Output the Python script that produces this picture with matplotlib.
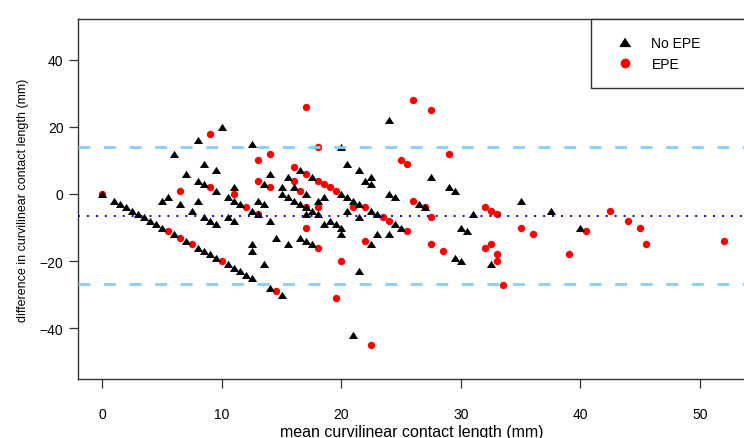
import matplotlib
matplotlib.use("Agg")
import matplotlib.pyplot as plt
from matplotlib.lines import Line2D

plt.rcParams['font.family'] = ['Liberation Sans', 'DejaVu Sans']

# half-point on the "one reading is zero" diagonal: (k/2, -k)
diag_no_epe = [2, 3, 4, 5, 6, 7, 8, 9, 10, 12, 14, 16, 17, 18, 19, 21, 22, 23, 24, 25, 28, 30]
diag_epe = [11, 13, 15, 20, 29]

# No EPE (triangles): mean, difference (mm)
no_epe_mean = [0, 6, 7, 5, 5.5, 6.5, 7.5, 10, 8, 12.5, 8.5, 9.5, 14, 13.5, 15, 8, 8.5, 9.5,
               11, 10.5, 11, 11.5, 12.5, 13, 13, 13.5, 15, 8, 8.5, 9, 9.5, 10.5, 11, 14,
               14.5, 12.5, 12.5, 13.5, 20, 20.5, 21.5, 22.5, 22, 22.5, 16.5, 17.5, 20, 20.5,
               21, 21.5, 22.5, 20.5, 21.5, 15.5, 16, 17, 15.5, 16, 16.5, 17, 17.5, 18, 18,
               18.5, 17, 18.5, 19, 19.5, 20, 20, 15.5, 16.5, 17, 17.5, 22.5, 21.5, 21, 24,
               27.5, 29, 29.5, 24, 24.5, 26.5, 27, 23, 24.5, 25, 23, 24, 29.5, 30, 30, 30.5,
               31, 32.5, 35, 37.5, 40]
no_epe_diff = [0, 12, 6, -2, -1, -3, -5, 20, 16, 15, 9, 7, 6, 3, 2, 4, 3, 1,
               2, -1, -2, -3, -5, -6, -2, -3, 0, -2, -7, -8, -9, -7, -8, -8,
               -13, -15, -17, -21, 14, 9, 7, 5, 4, 3, 7, 5, 0, -1,
               -2, -3, -5, -5, -7, 5, 2, 0, -1, -2, -3, -4, -5, -6, -2,
               -1, -6, -9, -8, -9, -10, -12, -15, -13, -14, -15, -15, -23, -42, 22,
               5, 2, 1, 0, -1, -3, -4, -6, -9, -10, -12, -12, -19, -20, -10, -11,
               -6, -21, -2, -5, -10]

# EPE (circles): mean, difference (mm)
epe_mean = [0, 6.5, 9, 14, 13, 13, 14, 9, 11, 12, 13, 17, 18, 16, 17, 18, 18.5, 19,
            19.5, 21, 22, 16, 16.5, 17, 18, 17, 18, 22, 20, 19.5, 22.5, 26, 27.5, 29,
            25, 25.5, 26, 27, 27.5, 23.5, 24, 25.5, 27.5, 28.5, 32, 32.5, 33, 35, 36,
            32, 32.5, 33, 33, 33.5, 40.5, 39, 42.5, 44, 45, 45.5, 52]
epe_diff = [0, 1, 18, 12, 10, 4, 2, 2, 0, -4, -6, 26, 14, 8, 6, 4, 3, 2,
            1, -4, -4, 4, 1, -4, -4, -10, -16, -14, -20, -31, -45, 28, 25, 12,
            10, 9, -2, -4, -7, -7, -8, -11, -15, -17, -4, -5, -6, -10, -12,
            -16, -15, -18, -20, -27, -11, -18, -5, -8, -10, -15, -14]

bias = -6.5
loa_upper = 13.9
loa_lower = -26.9

x_ticks = [0, 10, 20, 30, 40, 50]
y_ticks = [-40, -20, 0, 20, 40]

no_epe_mean = no_epe_mean + [k / 2 for k in diag_no_epe]
no_epe_diff = no_epe_diff + [-k for k in diag_no_epe]
epe_mean = epe_mean + [k / 2 for k in diag_epe]
epe_diff = epe_diff + [-k for k in diag_epe]

fig = plt.figure(figsize=(7.44, 4.39), dpi=100)
ax = fig.add_axes([78 / 744, 1 - 380 / 439, 668 / 744, 360 / 439])

tri = [(0, 0.8), (-1, -0.75), (1, -0.75)]
ax.scatter(epe_mean, epe_diff, s=28, marker='o', color='#ff0000', linewidths=0, zorder=2)
ax.scatter(no_epe_mean, no_epe_diff, s=44, marker=tri, color='black', linewidths=0, zorder=2)

ax.axhline(loa_upper, color='#87cefa', lw=2.0, ls=(0, (4.3, 4.9)), zorder=3)
ax.axhline(loa_lower, color='#87cefa', lw=2.0, ls=(0, (4.3, 4.9)), zorder=3)
ax.axhline(bias, color='#0000ff', lw=1.4, ls=(0, (1, 3.6)), zorder=3)

ax.set_xlim(-2.05, 53.85)
ax.set_ylim(-55.1, 52.1)
ax.set_xticks(x_ticks)
ax.set_yticks(y_ticks)
ax.tick_params(direction='out', length=6.5, width=0.9, color='#333333', labelsize=10)
ax.tick_params(axis='x', pad=14)
ax.tick_params(axis='y', pad=4)
for sp in ax.spines.values():
    sp.set_color('#333333')
    sp.set_linewidth(1.0)

ax.set_xlabel('mean curvilinear contact length (mm)', fontsize=11.5, labelpad=2)
ax.set_ylabel('difference in curvilinear contact length (mm)', fontsize=9, labelpad=8)

handles = [Line2D([], [], marker=tri, color='black', ls='none', markersize=7.5),
           Line2D([], [], marker='o', color='#ff0000', ls='none', markersize=6)]
leg = fig.legend(handles, ['No EPE', 'EPE'], loc='upper left',
                 bbox_to_anchor=(591 / 744, 1 - 86 / 439, 0.3, 66 / 439), mode='expand',
                 borderaxespad=0, fancybox=False, edgecolor='#333333', framealpha=1,
                 fontsize=10, handletextpad=0.65, labelspacing=0.55, borderpad=1.2,
                 handlelength=2.5)
leg.get_frame().set_linewidth(1.0)

fig.savefig('out.png', dpi=100)
